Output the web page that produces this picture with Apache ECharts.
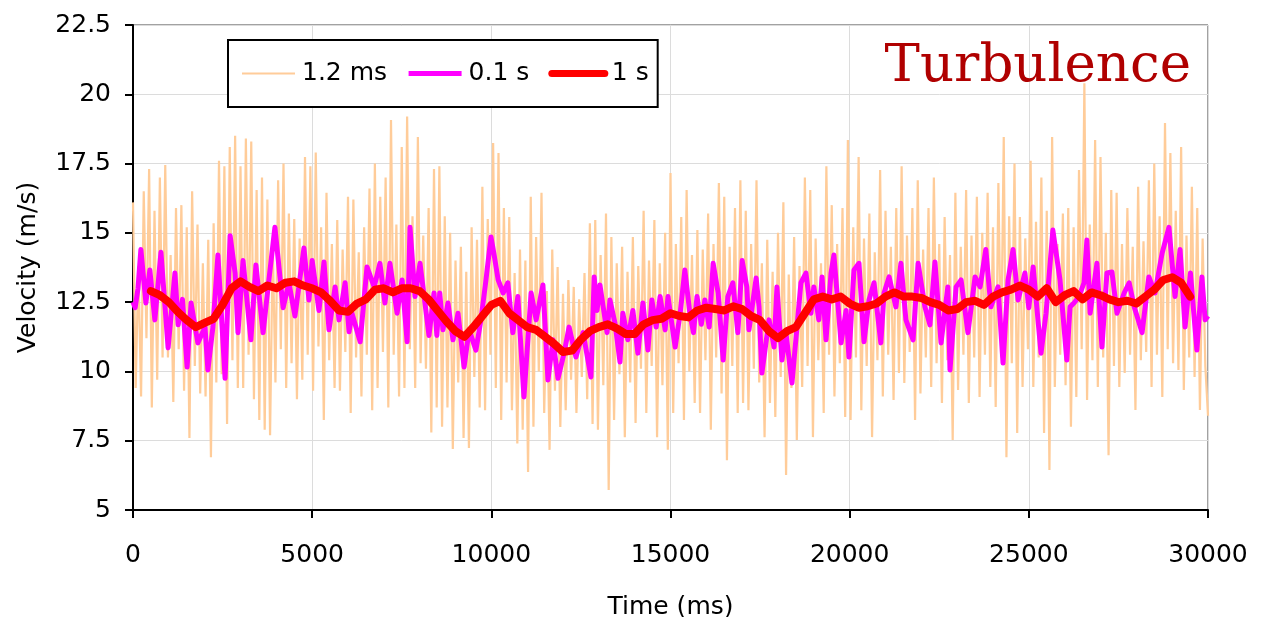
<!DOCTYPE html>
<html>
<head>
<meta charset="utf-8">
<script src="https://cdn.jsdelivr.net/npm/echarts@6/dist/echarts.min.js"></script>
<style>
html, body { margin: 0; padding: 0; background: #fff; }
#chart { width: 1264px; height: 617px; }
</style>
</head>
<body>
<div id="chart"></div>
<script>
// axis ticks
const xTicks = [0, 5000, 10000, 15000, 20000, 25000, 30000];
const yTicks = [5, 7.5, 10, 12.5, 15, 17.5, 20, 22.5];
const seriesNames = ["1.2 ms", "0.1 s", "1 s"];

// 1.2 ms raw signal, one value every 75 ms (read peak / trough envelope)
const rawStep = 75;
const rawValues = [
    16.1, 9.4, 13.8, 9.1, 16.5, 11.2, 17.3, 8.7, 15.8, 9.7,
    17.0, 10.5, 17.45, 10.5, 14.2, 8.9, 15.9, 10.8, 16.0, 9.3,
    15.2, 7.6, 16.5, 10.2, 15.3, 9.2, 13.9, 9.1, 14.75, 6.9,
    15.35, 9.6, 17.6, 9.9, 17.4, 8.1, 18.1, 10.4, 18.5, 9.4,
    17.4, 9.4, 18.4, 10.6, 18.3, 9.0, 16.55, 8.25, 17.0, 7.9,
    16.2, 7.7, 14.6, 9.6, 16.9, 10.8, 17.5, 9.4, 15.7, 10.3,
    15.5, 9.0, 14.8, 9.7, 17.74, 10.6, 17.4, 9.3, 17.9, 10.9,
    15.2, 8.25, 16.45, 10.4, 14.6, 9.4, 15.46, 9.3, 14.4, 10.7,
    16.3, 8.5, 16.2, 10.5, 14.3, 9.1, 15.2, 10.6, 16.6, 8.6,
    17.5, 9.4, 16.3, 10.7, 17.0, 8.7, 19.07, 10.6, 15.3, 9.1,
    18.1, 9.4, 19.2, 10.8, 15.6, 9.4, 18.46, 10.3, 14.9, 10.1,
    15.9, 7.8, 17.3, 8.7, 17.4, 8.0, 15.6, 8.7, 15.0, 7.2,
    14.0, 9.6, 14.5, 7.6, 13.6, 7.24, 15.2, 9.8, 14.75, 8.7,
    16.66, 8.6, 15.5, 10.6, 18.24, 9.4, 17.88, 8.25, 15.9, 9.6,
    15.57, 8.6, 13.55, 7.4, 14.4, 7.9, 14.0, 6.37, 16.3, 8.0,
    14.85, 10.0, 16.45, 8.5, 12.9, 7.17, 14.4, 9.3, 13.77, 8.0,
    12.8, 8.6, 13.3, 9.7, 13.05, 8.5, 12.6, 9.8, 13.55, 9.0,
    15.35, 8.1, 15.46, 7.9, 14.2, 9.5, 15.7, 5.72, 14.85, 8.25,
    13.9, 9.9, 14.5, 7.63, 13.6, 9.6, 14.85, 8.14, 13.8, 10.1,
    15.8, 8.5, 14.0, 10.2, 15.46, 7.63, 13.9, 9.5, 15.0, 7.17,
    17.16, 8.5, 14.6, 10.3, 15.57, 8.25, 16.55, 10.0, 14.2, 8.86,
    15.1, 8.5, 14.4, 10.4, 15.7, 7.9, 14.6, 10.5, 16.8, 9.2,
    16.3, 6.8, 14.5, 10.2, 15.9, 8.5, 16.9, 8.86, 15.8, 8.6,
    14.6, 10.1, 16.9, 9.6, 13.9, 7.63, 14.75, 8.86, 13.6, 8.36,
    15.0, 9.8, 16.1, 6.26, 13.5, 9.4, 14.85, 7.53, 13.8, 9.44,
    17.0, 10.2, 16.55, 7.63, 14.8, 10.4, 13.9, 8.5, 17.4, 10.6,
    16.0, 9.1, 14.6, 10.3, 15.9, 8.36, 18.35, 8.25, 15.2, 10.5,
    17.74, 8.6, 14.8, 10.2, 15.7, 7.63, 14.3, 10.4, 17.27, 9.1,
    15.8, 10.6, 14.5, 8.97, 15.9, 9.94, 17.4, 9.58, 14.9, 10.7,
    15.9, 8.25, 16.9, 9.2, 14.4, 10.5, 15.9, 9.44, 17.0, 10.3,
    14.6, 8.86, 15.57, 10.4, 14.2, 7.53, 16.45, 9.33, 14.5, 10.6,
    16.55, 8.86, 14.9, 10.5, 16.3, 9.08, 15.0, 10.6, 16.45, 9.44,
    15.2, 8.72, 16.8, 10.5, 18.46, 6.9, 15.6, 10.3, 17.5, 7.78,
    15.57, 9.44, 14.8, 10.8, 17.6, 9.44, 15.4, 10.5, 17.0, 7.78,
    15.8, 6.44, 18.46, 9.44, 14.6, 10.6, 15.7, 9.5, 15.9, 8.0,
    15.2, 9.08, 17.27, 10.8, 20.4, 8.97, 15.3, 10.4, 18.35, 9.44,
    17.74, 10.5, 15.0, 6.98, 16.55, 10.2, 16.45, 9.44, 14.6, 9.94,
    15.9, 10.6, 14.5, 8.61, 16.66, 10.4, 14.7, 10.7, 16.9, 9.44,
    17.5, 10.6, 15.6, 9.08, 18.96, 10.8, 17.88, 10.3, 15.8, 10.05,
    18.1, 9.33, 14.9, 10.5, 16.66, 9.8, 15.9, 8.61, 14.8, 10.2,
    8.4
];

// 0.1 s average: [time ms, velocity] at read peaks and troughs
const avg01 = [
    [0,12.5],[60,12.3],[140,13.0],[220,14.4],[360,12.47],[470,13.66],[610,11.86],[780,14.3],
    [980,10.85],[1170,13.55],[1260,11.68],[1380,12.6],[1510,10.16],[1620,12.47],[1810,11.03],
    [2010,11.6],[2090,10.05],[2230,11.6],[2370,14.2],[2570,9.75],[2710,14.9],[2850,13.55],
    [2930,11.4],[3070,14.0],[3290,11.14],[3430,13.84],[3630,11.4],[3770,13.05],[3960,15.2],
    [4190,12.3],[4350,13.2],[4520,12.0],[4770,14.45],[4910,12.58],[5000,14.0],[5190,12.2],
    [5330,13.95],[5470,11.5],[5640,13.05],[5750,11.86],[5920,13.2],[6030,11.43],[6110,12.1],
    [6340,11.07],[6530,13.77],[6730,13.05],[6890,13.9],[7030,12.47],[7170,13.9],[7370,12.1],
    [7510,13.3],[7650,11.07],[7730,15.2],[7870,12.7],[8010,13.9],[8260,11.3],[8400,12.83],
    [8480,11.3],[8560,12.83],[8650,11.5],[8790,12.47],[8930,11.14],[9070,12.1],[9240,10.16],
    [9380,11.5],[9570,10.77],[9710,11.86],[9850,13.3],[9990,14.85],[10070,14.27],[10190,13.3],
    [10330,12.83],[10460,13.2],[10600,11.4],[10740,12.7],[10910,9.08],[11110,12.83],[11250,11.86],
    [11440,13.12],[11580,9.69],[11720,11.14],[11860,9.75],[12030,10.66],[12170,11.6],[12360,10.52],
    [12560,11.4],[12780,9.8],[12870,13.41],[12950,12.2],[13030,13.12],[13230,11.4],[13310,12.58],
    [13450,11.75],[13590,10.34],[13670,12.1],[13810,11.14],[13950,12.2],[14090,10.66],[14230,12.47],
    [14370,10.77],[14480,12.58],[14600,11.6],[14710,12.7],[14850,11.5],[14930,12.7],[15130,10.88],
    [15270,12.1],[15400,13.66],[15540,12.1],[15640,11.4],[15740,12.7],[15860,11.7],[15960,12.58],
    [16080,11.6],[16190,13.9],[16330,12.83],[16470,10.41],[16600,12.7],[16740,13.2],[16880,11.4],
    [17000,14.0],[17130,13.05],[17190,11.5],[17390,13.37],[17470,12.33],[17550,9.94],[17750,11.86],
    [17890,10.88],[17970,13.05],[18110,10.41],[18220,11.4],[18390,9.58],[18530,11.6],[18640,13.2],
    [18780,13.55],[18920,12.1],[19000,13.05],[19140,11.86],[19230,13.41],[19340,11.14],[19480,13.55],
    [19560,14.2],[19760,11.03],[19900,12.2],[19980,10.52],[20120,13.66],[20260,13.9],[20400,11.07],
    [20540,12.58],[20680,13.2],[20870,11.03],[20960,12.83],[21100,13.41],[21290,12.33],[21430,13.9],
    [21570,11.86],[21770,11.14],[21910,13.9],[22100,12.33],[22240,11.68],[22380,13.95],[22550,11.03],
    [22740,13.05],[22800,10.05],[22970,13.05],[23110,13.3],[23300,11.4],[23500,13.41],[23640,13.05],
    [23800,14.4],[23940,12.33],[24140,13.05],[24280,10.3],[24420,13.3],[24560,14.4],[24700,12.58],
    [24890,13.55],[25000,12.3],[25120,13.77],[25340,10.66],[25480,12.1],[25670,15.1],[25870,13.3],
    [26060,10.41],[26150,12.33],[26260,12.47],[26400,12.7],[26540,13.2],[26620,14.74],[26710,12.1],
    [26900,13.9],[27040,10.88],[27180,13.55],[27320,13.59],[27460,12.1],[27660,12.83],[27800,13.2],
    [27940,12.33],[28160,11.4],[28350,13.41],[28520,12.83],[28720,14.27],[28910,15.2],[29080,12.7],
    [29220,14.4],[29360,11.6],[29510,13.55],[29690,10.77],[29830,13.41],[29920,11.86],[30000,12.0]
];

// 1 s average, every 250 ms from 500 ms
const avg1Start = 500;
const avg1Step = 250;
const avg1Values = [
    12.9, 12.75, 12.5, 12.15, 11.85, 11.6, 11.75, 11.9, 12.4, 13.0,
    13.25, 13.05, 12.9, 13.1, 13.0, 13.2, 13.25, 13.1, 13.0, 12.85,
    12.55, 12.2, 12.15, 12.45, 12.6, 12.95, 13.0, 12.85, 13.0, 13.0,
    12.9, 12.6, 12.2, 11.8, 11.45, 11.25, 11.6, 12.0, 12.4, 12.55,
    12.1, 11.85, 11.6, 11.5, 11.25, 11.0, 10.7, 10.75, 11.15, 11.45,
    11.6, 11.7, 11.55, 11.35, 11.35, 11.7, 11.85, 11.9, 12.1, 12.0,
    11.95, 12.2, 12.3, 12.25, 12.2, 12.35, 12.25, 12.0, 11.85, 11.45,
    11.2, 11.45, 11.6, 12.1, 12.6, 12.7, 12.6, 12.7, 12.45, 12.3,
    12.35, 12.45, 12.7, 12.85, 12.7, 12.7, 12.65, 12.5, 12.4, 12.2,
    12.25, 12.5, 12.55, 12.4, 12.7, 12.85, 12.95, 13.1, 12.95, 12.7,
    13.0, 12.5, 12.75, 12.9, 12.6, 12.85, 12.75, 12.6, 12.5, 12.55,
    12.45, 12.7, 12.95, 13.3, 13.4, 13.2, 12.7
];

const rawData = rawValues.map((v, i) => [i * rawStep, v]);
const avg1Data = avg1Values.map((v, i) => [avg1Start + i * avg1Step, v]);

const chart = echarts.init(document.getElementById('chart'));
const fontName = '"DejaVu Sans", sans-serif';

chart.setOption({
    backgroundColor: '#fff',
    animation: false,
    title: {
        text: 'Turbulence',
        right: 68, top: 36,
        textStyle: { fontFamily: '"DejaVu Serif", serif', fontWeight: 'normal', fontSize: 53, color: '#b00000' }
    },
    legend: {
        left: 228, top: 40,
        padding: [21, 9, 21, 13],
        itemGap: 19,
        itemWidth: 53, itemHeight: 14,
        borderColor: '#000', borderWidth: 2, backgroundColor: '#fff',
        itemStyle: { opacity: 0 },
        textStyle: { fontFamily: fontName, fontSize: 25, color: '#000', padding: [0, 0, 0, 2] },
        data: [
            { name: seriesNames[0], lineStyle: { width: 2 } },
            { name: seriesNames[1], lineStyle: { width: 5 } },
            { name: seriesNames[2], lineStyle: { width: 7 } }
        ]
    },
    grid: {
        left: 133, right: 56, top: 25, bottom: 107,
        containLabel: false, outerBoundsMode: 'none',
        show: true, borderColor: '#444', borderWidth: 1
    },
    xAxis: {
        type: 'value', min: xTicks[0], max: xTicks[xTicks.length - 1], interval: 5000,
        name: 'Time (ms)', nameLocation: 'middle', nameGap: 85,
        nameTextStyle: { fontFamily: fontName, fontSize: 25, color: '#000' },
        axisLine: { lineStyle: { color: '#000', width: 2 } },
        axisTick: { inside: false, length: 8, lineStyle: { color: '#000', width: 2 } },
        axisLabel: { fontFamily: fontName, fontSize: 25, color: '#000', margin: 33, formatter: v => String(v) },
        splitLine: { show: true, lineStyle: { color: '#dcdcdc', width: 1 } }
    },
    yAxis: {
        type: 'value', min: yTicks[0], max: yTicks[yTicks.length - 1], interval: 2.5,
        name: 'Velocity (m/s)', nameLocation: 'middle', nameGap: 92, nameRotate: 90,
        nameTextStyle: { fontFamily: fontName, fontSize: 25, color: '#000' },
        axisLine: { show: true, lineStyle: { color: '#000', width: 2 } },
        axisTick: { show: true, inside: false, length: 8, lineStyle: { color: '#000', width: 2 } },
        axisLabel: { fontFamily: fontName, fontSize: 25, color: '#000', margin: 22 },
        splitLine: { show: true, lineStyle: { color: '#dcdcdc', width: 1 } }
    },
    series: [
        {
            name: seriesNames[0], type: 'line', symbol: 'none', data: rawData,
            lineStyle: { color: '#ffcc99', width: 2.2 }, itemStyle: { color: '#ffcc99' }, z: 1
        },
        {
            name: seriesNames[1], type: 'line', symbol: 'none', data: avg01,
            lineStyle: { color: '#ff00ff', width: 5, join: 'round' }, itemStyle: { color: '#ff00ff' }, z: 2
        },
        {
            name: seriesNames[2], type: 'line', symbol: 'none', data: avg1Data,
            lineStyle: { color: '#ff0000', width: 8, join: 'round', cap: 'round' }, itemStyle: { color: '#ff0000' }, z: 3
        }
    ]
});
</script>
</body>
</html>
